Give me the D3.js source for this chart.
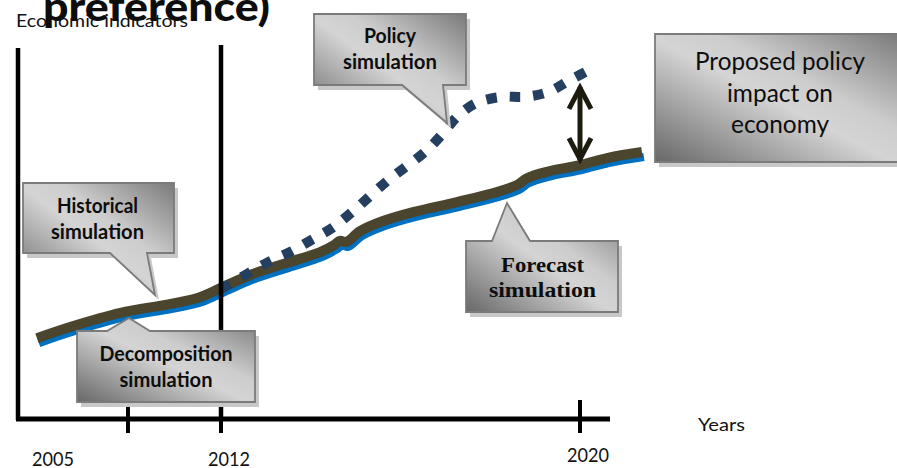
<!DOCTYPE html>
<html><head><meta charset="utf-8">
<script src="https://cdn.jsdelivr.net/npm/d3@7"></script>
<style>html,body{margin:0;padding:0;background:#fff;overflow:hidden}</style>
</head><body><svg id="c" width="897" height="468"></svg>
<script>
// ---- data ----
const baseYears  = [2004.68, 2006.0, 2008.0, 2010.0, 2011.16, 2012.0, 2012.71, 2013.47, 2014.21, 2014.52, 2014.65, 2014.79, 2015.10, 2015.61, 2016.28, 2017.26, 2018.15, 2018.60, 2018.82, 2019.26, 2020.0, 2020.60, 2021.38];
const baseValues = [21.4, 24.4, 28.2, 30.6, 32.4, 34.9, 38.6, 41.6, 44.5, 46.4, 47.5, 47.2, 50.1, 52.8, 55.2, 57.9, 60.6, 62.5, 64.3, 66.0, 67.8, 69.7, 71.3];
const policyYears  = [2012.0, 2012.58, 2013.05, 2013.54, 2014.01, 2014.47, 2014.92, 2015.70, 2016.57, 2016.95, 2017.28, 2017.70, 2018.26, 2018.77, 2019.29, 2019.78, 2020.32];
const policyValues = [34.6, 38.6, 41.8, 44.5, 47.7, 50.9, 55.2, 63.5, 71.6, 76.4, 81.0, 84.5, 86.1, 86.1, 87.4, 90.6, 94.0];
const tickYears  = [2008.3, 2012, 2020];
const labelYears = [2005, 2012, 2020];
const tickLabels = ["2005", "2012", "2020"];
const dividerYear = 2012;
const arrowYear = 2020;
const arrowValues = [89.3, 68.6];
const titleText = "preference)";
const yAxisTitle = "Economic indicators";
const xAxisTitle = "Years";

// ---- layout ----
const svg = d3.select("#c");
const x = d3.scaleLinear().domain([2005, 2012, 2020]).range([45, 221, 580]);
const y = d3.scaleLinear().domain([0, 100]).range([418, 45]);

const defs = svg.append("defs");
const grad = defs.append("linearGradient").attr("id", "boxg")
  .attr("x1", 0).attr("y1", 1).attr("x2", 1).attr("y2", 0);
grad.append("stop").attr("offset", "0%").attr("stop-color", "#676767");
grad.append("stop").attr("offset", "48%").attr("stop-color", "#d4d4d4");
grad.append("stop").attr("offset", "62%").attr("stop-color", "#cdcdcd");
grad.append("stop").attr("offset", "100%").attr("stop-color", "#7a7a7a");

const line = d3.line().x(d => x(d[0])).y(d => y(d[1])).curve(d3.curveCatmullRom.alpha(0.5));
const base = baseYears.map((v, i) => [v, baseValues[i]]);
const policy = policyYears.map((v, i) => [v, policyValues[i]]);

// blue underline
svg.append("path").attr("d", line(base)).attr("transform", "translate(2,5)")
  .attr("fill", "none").attr("stroke", "#0070c0").attr("stroke-width", 8).attr("stroke-linejoin", "round");
// brown main line
svg.append("path").attr("d", line(base))
  .attr("fill", "none").attr("stroke", "#4a452c").attr("stroke-width", 10).attr("stroke-linejoin", "round");
// policy dotted
svg.append("path").attr("d", line(policy))
  .attr("fill", "none").attr("stroke", "#243f60").attr("stroke-width", 10)
  .attr("stroke-dasharray", "10.5,13");

// axes
const yAxisX = 18;
svg.append("line").attr("x1", yAxisX).attr("x2", yAxisX).attr("y1", y(100) + 3).attr("y2", y(0) + 2)
  .attr("stroke", "#000").attr("stroke-width", 4.5);
svg.append("line").attr("x1", x(dividerYear)).attr("x2", x(dividerYear)).attr("y1", y(100)).attr("y2", y(0))
  .attr("stroke", "#000").attr("stroke-width", 4.5);
svg.append("line").attr("x1", yAxisX - 2).attr("x2", 610).attr("y1", y(0) + 1).attr("y2", y(0) + 1)
  .attr("stroke", "#000").attr("stroke-width", 5);
svg.selectAll("line.tick").data(tickYears).enter().append("line").attr("class", "tick")
  .attr("x1", d => x(d)).attr("x2", d => x(d)).attr("y1", y(0) - 18).attr("y2", y(0) + 15)
  .attr("stroke", "#000").attr("stroke-width", 4);

// callouts
const callouts = [
  {box: [314, 14, 466, 85], ptr: {side: "bottom", a: 402, b: 443, tx: 447, ty: 123},
   lines: ["Policy", "simulation"], widths: [52, 94], cx: 390, ys: [43, 69], font: "Lato", weight: 700, size: 20},
  {box: [655, 34, 902, 162], ptr: null,
   lines: ["Proposed policy", "impact on", "economy"], widths: [170, 106, 98], cx: 780, ys: [70, 102, 133], font: "Lato", weight: 400, size: 25},
  {box: [23, 183, 174, 253], ptr: {side: "bottom", a: 110, b: 147, tx: 155, ty: 295},
   lines: ["Historical", "simulation"], widths: [81, 93], cx: 97.5, ys: [213, 239], font: "Lato", weight: 700, size: 20},
  {box: [77, 331, 255, 402], ptr: {side: "top", a: 107, b: 150, tx: 129, ty: 318},
   lines: ["Decomposition", "simulation"], widths: [133, 93], cx: 166, ys: [361, 387], font: "Lato", weight: 700, size: 20},
  {box: [466, 241, 618, 312], ptr: {side: "top", a: 492, b: 530, tx: 507, ty: 203},
   lines: ["Forecast", "simulation"], widths: [83, 107], cx: 542.5, ys: [272, 297], font: "Liberation Serif", weight: 700, size: 20}
];
function calloutPath(c) {
  const [x0, y0, x1, y1] = c.box, p = c.ptr;
  if (!p) return `M${x0},${y0}H${x1}V${y1}H${x0}Z`;
  if (p.side === "bottom") return `M${x0},${y0}H${x1}V${y1}H${p.b}L${p.tx},${p.ty}L${p.a},${y1}H${x0}Z`;
  return `M${x0},${y0}H${p.a}L${p.tx},${p.ty}L${p.b},${y0}H${x1}V${y1}H${x0}Z`;
}
callouts.forEach(c => {
  const g = svg.append("g");
  g.append("path").attr("d", calloutPath(c)).attr("transform", "translate(4,5)").attr("fill", "#c8c8c8");
  g.append("path").attr("d", calloutPath(c)).attr("fill", "url(#boxg)").attr("stroke", "#7b7b7b").attr("stroke-width", 1.8);
  c.lines.forEach((t, i) => {
    g.append("text").attr("x", c.cx).attr("y", c.ys[i]).attr("text-anchor", "middle")
      .attr("font-family", c.font).attr("font-weight", c.weight).attr("font-size", c.size)
      .attr("fill", "#0d0d0d").attr("textLength", c.widths[i]).attr("lengthAdjust", "spacingAndGlyphs").text(t);
  });
});

// double arrow
const ax = x(arrowYear), ay0 = y(arrowValues[0]), ay1 = y(arrowValues[1]);
const ag = svg.append("g").attr("stroke", "#1d1a10").attr("stroke-width", 5).attr("fill", "none")
  .attr("stroke-linecap", "butt").attr("stroke-linejoin", "miter");
ag.append("line").attr("x1", ax).attr("x2", ax).attr("y1", ay0 + 2).attr("y2", ay1 - 2);
ag.append("path").attr("d", `M${ax - 11},${ay0 + 24}L${ax},${ay0 + 3}L${ax + 11},${ay0 + 24}`);
ag.append("path").attr("d", `M${ax - 11},${ay1 - 24}L${ax},${ay1 - 3}L${ax + 11},${ay1 - 24}`);

// texts
svg.append("text").attr("x", 16).attr("y", 27).attr("font-family", "Lato").attr("font-size", 17)
  .attr("fill", "#111").attr("textLength", 172).attr("lengthAdjust", "spacingAndGlyphs").text(yAxisTitle);
svg.append("text").attr("x", 43).attr("y", 21).attr("font-family", "Lato").attr("font-weight", 900)
  .attr("font-size", 40).attr("fill", "#0d0d0d").attr("textLength", 227).attr("lengthAdjust", "spacingAndGlyphs").text(titleText);
svg.append("text").attr("x", 698).attr("y", 431).attr("font-family", "Lato").attr("font-size", 18)
  .attr("fill", "#111").attr("textLength", 47).attr("lengthAdjust", "spacingAndGlyphs").text(xAxisTitle);
svg.selectAll("text.yr").data(labelYears).enter().append("text").attr("class", "yr")
  .attr("x", d => x(d) + 8).attr("y", (d, i) => i === 2 ? 462 : 466).attr("text-anchor", "middle")
  .attr("font-family", "Lato").attr("font-size", 19).attr("fill", "#111")
  .attr("textLength", 42).attr("lengthAdjust", "spacingAndGlyphs")
  .text((d, i) => tickLabels[i]);
</script>
</body></html>
